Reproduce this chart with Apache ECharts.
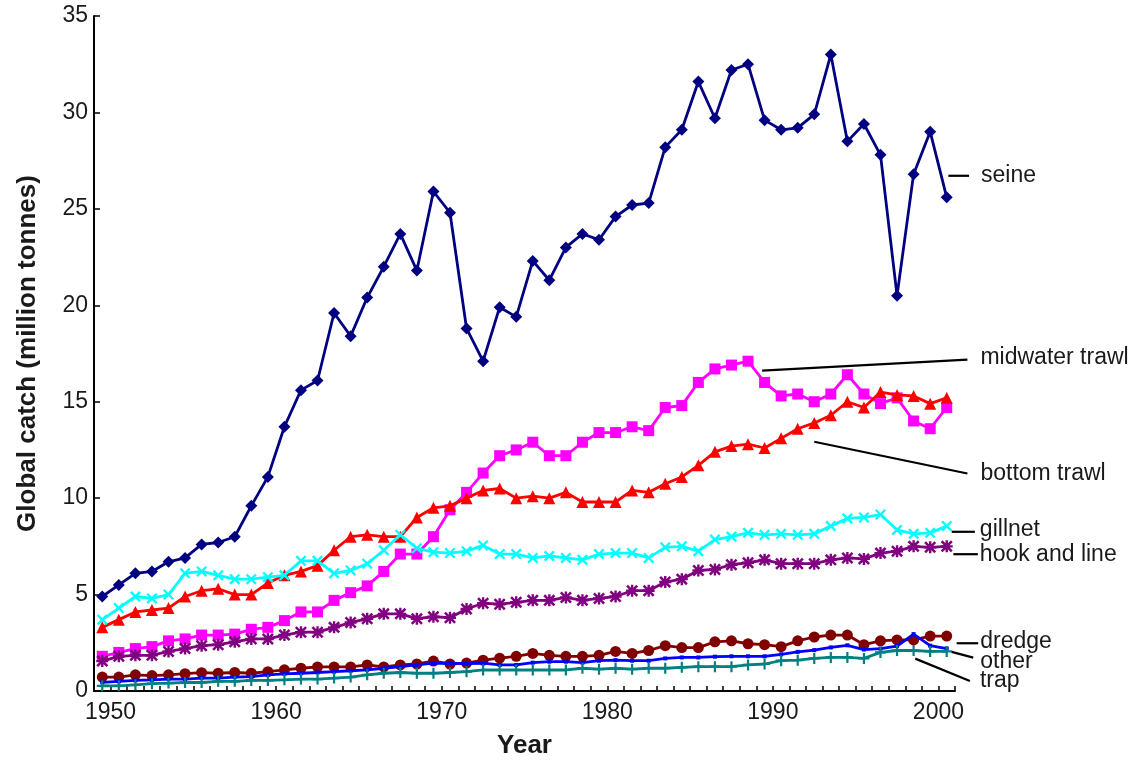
<!DOCTYPE html>
<html><head><meta charset="utf-8">
<script src="https://cdn.jsdelivr.net/npm/echarts@6/dist/echarts.min.js"></script>
<style>html,body{margin:0;padding:0;background:#fff}#c{width:1134px;height:764px}</style>
</head><body><div id="c"></div>
<script>
// ---- data ----
const years = [1950,1951,1952,1953,1954,1955,1956,1957,1958,1959,1960,1961,1962,1963,1964,1965,1966,1967,1968,1969,
  1970,1971,1972,1973,1974,1975,1976,1977,1978,1979,1980,1981,1982,1983,1984,1985,1986,1987,1988,1989,
  1990,1991,1992,1993,1994,1995,1996,1997,1998,1999,2000,2001];
const xTickLabels = [1950,1960,1970,1980,1990,2000];
const seine = [4.9,5.5,6.1,6.2,6.7,6.9,7.6,7.7,8.0,9.6,11.1,13.7,15.6,16.1,19.6,18.4,20.4,22.0,23.7,21.8,
  25.9,24.8,18.8,17.1,19.9,19.4,22.3,21.3,23.0,23.7,23.4,24.6,25.2,25.3,28.2,29.1,31.6,29.7,32.2,32.5,
  29.6,29.1,29.2,29.9,33.0,28.5,29.4,27.8,20.5,26.8,29.0,25.6];
const midwaterTrawl = [1.8,2.0,2.2,2.3,2.6,2.7,2.9,2.9,2.95,3.2,3.3,3.65,4.1,4.1,4.7,5.1,5.45,6.2,7.1,7.1,
  8.0,9.4,10.3,11.3,12.2,12.5,12.9,12.2,12.2,12.9,13.4,13.4,13.7,13.5,14.7,14.8,16.0,16.7,16.9,17.1,
  16.0,15.3,15.4,15.0,15.4,16.4,15.4,14.9,15.2,14.0,13.6,14.7];
const bottomTrawl = [3.3,3.7,4.1,4.2,4.3,4.9,5.2,5.3,5.0,5.0,5.6,6.0,6.2,6.5,7.3,8.0,8.1,8.0,8.0,9.0,
  9.5,9.6,10.0,10.4,10.5,10.0,10.1,10.0,10.3,9.8,9.8,9.8,10.4,10.3,10.75,11.1,11.7,12.4,12.7,12.8,
  12.6,13.1,13.6,13.9,14.3,15.0,14.7,15.5,15.35,15.3,14.9,15.2];
const gillnet = [3.7,4.3,4.9,4.8,5.0,6.1,6.2,6.0,5.8,5.8,5.9,6.0,6.75,6.75,6.1,6.25,6.6,7.3,8.1,7.4,
  7.2,7.15,7.25,7.55,7.1,7.1,6.9,7.0,6.9,6.8,7.1,7.15,7.15,6.9,7.45,7.5,7.25,7.85,8.0,8.2,
  8.1,8.15,8.1,8.15,8.55,8.95,9.0,9.15,8.35,8.15,8.2,8.55];
const hookAndLine = [1.55,1.8,1.85,1.85,2.05,2.2,2.35,2.4,2.55,2.7,2.7,2.9,3.05,3.05,3.3,3.55,3.75,4.0,4.0,3.75,
  3.85,3.8,4.25,4.55,4.5,4.6,4.7,4.7,4.85,4.7,4.8,4.9,5.2,5.2,5.65,5.8,6.25,6.3,6.55,6.65,
  6.8,6.6,6.6,6.6,6.8,6.9,6.85,7.15,7.25,7.5,7.45,7.5];
const dredge = [0.72,0.72,0.84,0.8,0.84,0.9,0.95,0.92,0.96,0.92,1.0,1.1,1.18,1.25,1.25,1.25,1.35,1.25,1.35,1.4,
  1.55,1.4,1.45,1.6,1.7,1.8,1.95,1.85,1.8,1.8,1.85,2.05,1.95,2.1,2.35,2.25,2.25,2.55,2.6,2.45,
  2.4,2.3,2.6,2.8,2.9,2.9,2.4,2.6,2.65,2.65,2.85,2.85];
const other = [0.45,0.5,0.55,0.58,0.62,0.62,0.67,0.67,0.72,0.75,0.84,0.89,0.92,0.96,1.0,1.05,1.1,1.18,1.26,1.35,
  1.44,1.45,1.42,1.44,1.35,1.35,1.47,1.52,1.52,1.47,1.57,1.6,1.57,1.57,1.69,1.74,1.74,1.78,1.8,1.8,
  1.8,1.9,2.03,2.12,2.26,2.37,2.15,2.2,2.33,2.95,2.35,2.2];
const trap = [0.27,0.27,0.32,0.38,0.41,0.44,0.44,0.5,0.5,0.55,0.55,0.58,0.62,0.62,0.67,0.72,0.84,0.92,0.96,0.92,
  0.92,0.96,1.0,1.09,1.09,1.09,1.09,1.09,1.09,1.18,1.13,1.18,1.13,1.18,1.18,1.23,1.26,1.26,1.26,1.35,
  1.4,1.57,1.6,1.69,1.74,1.74,1.69,2.0,2.1,2.1,2.05,2.05];

// leader lines for the right-hand labels, in data units [year, catch]
const leaders = [
  { name: 'seine',          from: [2000.6, 26.8],  to: [2001.85, 26.8] },
  { name: 'midwater trawl', from: [1989.35, 16.8], to: [2001.75, 17.37] },
  { name: 'bottom trawl',   from: [1992.5, 13.15], to: [2001.75, 11.52] },
  { name: 'gillnet',        from: [2000.8, 8.53],  to: [2002.2, 8.53] },
  { name: 'hook and line',  from: [2000.9, 7.38],  to: [2002.38, 7.38] },
  { name: 'dredge',         from: [2001.1, 2.81],  to: [2002.4, 2.81] },
  { name: 'other',          from: [2000.8, 2.37],  to: [2002.1, 2.07] },
  { name: 'trap',           from: [1998.6, 2.02],  to: [2001.9, 0.87] }
];

// ---- styling ----
const FONT = "'Liberation Sans', Arial, Helvetica, sans-serif";
const TXT = '#1a1a1a';
const X_SHIFT = -0.5; // points sit midway between the yearly ticks in the reference
const SYM_X = 'path://M1.5,0 L5,3.5 L8.5,0 L10,1.5 L6.5,5 L10,8.5 L8.5,10 L5,6.5 L1.5,10 L0,8.5 L3.5,5 L0,1.5 Z';
const SYM_PLUS = 'path://M4,0 L6,0 L6,4 L10,4 L10,6 L6,6 L6,10 L4,10 L4,6 L0,6 L0,4 L4,4 Z';
const SYM_STAR = SYM_PLUS + ' M1.5,0 L5,3.5 L8.5,0 L10,1.5 L6.5,5 L10,8.5 L8.5,10 L5,6.5 L1.5,10 L0,8.5 L3.5,5 L0,1.5 Z';
const labelStyle = {
  'seine':          { gap: 12, dy: 0 },
  'midwater trawl': { gap: 13, dy: -2 },
  'bottom trawl':   { gap: 13, dy: 0 },
  'gillnet':        { gap: 5,  dy: -2 },
  'hook and line':  { gap: 2,  dy: 0 },
  'dredge':         { gap: 2,  dy: -2 },
  'other':          { gap: 7,  dy: 4 },
  'trap':           { gap: 10, dy: 0 }
};

// main plot: x 1949..2001 over 861 px; the annotation layer uses the same scale extended to 2005
const GRID_LEFT = 94, GRID_RIGHT = 179, GRID_TOP = 16, GRID_BOTTOM = 66;
const X_MIN = 1949, X_MAX = 2001, X_MAX_ANN = 2005;
const pxPerYear = (1134 - GRID_LEFT - GRID_RIGHT) / (X_MAX - X_MIN);
const annRight = 1134 - GRID_LEFT - pxPerYear * (X_MAX_ANN - X_MIN);

function mk(name, values, color, symbol, size, z) {
  return {
    name, type: 'line', z,
    data: years.map((y, i) => [y + X_SHIFT, values[i]]),
    symbol, symbolSize: size, showAllSymbol: true,
    lineStyle: { color, width: 2.8 },
    itemStyle: { color, borderWidth: 0 },
    emphasis: { disabled: true }
  };
}

const series = [
  mk('seine', seine, '#000080', 'diamond', 12, 10),
  mk('midwater trawl', midwaterTrawl, '#ff00ff', 'rect', 11, 3),
  mk('bottom trawl', bottomTrawl, '#ff0000', 'triangle', 12, 4),
  mk('gillnet', gillnet, '#00ffff', SYM_X, 11, 5),
  mk('hook and line', hookAndLine, '#800080', SYM_STAR, 12, 6),
  mk('dredge', dredge, '#800000', 'circle', 11, 7),
  mk('other', other, '#0000ff', 'rect', 4, 8),
  mk('trap', trap, '#008080', SYM_PLUS, 11, 9)
];

leaders.forEach(l => {
  const st = labelStyle[l.name];
  series.push({
    name: l.name + ' label', type: 'line', clip: false, silent: true, z: 20,
    xAxisIndex: 1, yAxisIndex: 1,
    data: [l.from, l.to], symbol: 'none',
    lineStyle: { color: '#000', width: 2.2 },
    endLabel: {
      show: true, formatter: l.name, distance: st.gap, offset: [0, st.dy],
      fontFamily: FONT, fontSize: 23, color: TXT
    }
  });
});

const chart = echarts.init(document.getElementById('c'), null, { renderer: 'canvas' });
chart.setOption({
  animation: false,
  backgroundColor: '#fff',
  grid: [
    { left: GRID_LEFT, right: GRID_RIGHT, top: GRID_TOP, bottom: GRID_BOTTOM, containLabel: false },
    { left: GRID_LEFT, right: annRight, top: GRID_TOP, bottom: GRID_BOTTOM, containLabel: false }
  ],
  xAxis: [{
    type: 'value', min: X_MIN, max: X_MAX, interval: 1,
    name: 'Year', nameLocation: 'middle', nameGap: 42,
    nameTextStyle: { fontFamily: FONT, fontSize: 26, fontWeight: 'bold', color: TXT },
    axisLine: { lineStyle: { color: '#000', width: 2 } },
    axisTick: { inside: true, length: 5, lineStyle: { color: '#000', width: 1.5 } },
    axisLabel: {
      margin: 10, fontFamily: FONT, fontSize: 23, color: TXT,
      formatter: v => (xTickLabels.indexOf(v) >= 0 ? String(v) : '')
    },
    splitLine: { show: false }
  }, {
    gridIndex: 1, type: 'value', min: X_MIN, max: X_MAX_ANN, show: false
  }],
  yAxis: [{
    type: 'value', min: 0, max: 35, interval: 5,
    name: 'Global catch (million tonnes)', nameLocation: 'middle', nameGap: 53,
    nameTextStyle: { fontFamily: FONT, fontSize: 26, fontWeight: 'bold', color: TXT },
    axisLine: { show: true, lineStyle: { color: '#000', width: 2 } },
    axisTick: { show: true, inside: true, length: 6, lineStyle: { color: '#000', width: 1.5 } },
    axisLabel: { margin: 6, fontFamily: FONT, fontSize: 23, color: TXT },
    splitLine: { show: false }
  }, {
    gridIndex: 1, type: 'value', min: 0, max: 35, show: false
  }],
  series
});
</script>
</body></html>
